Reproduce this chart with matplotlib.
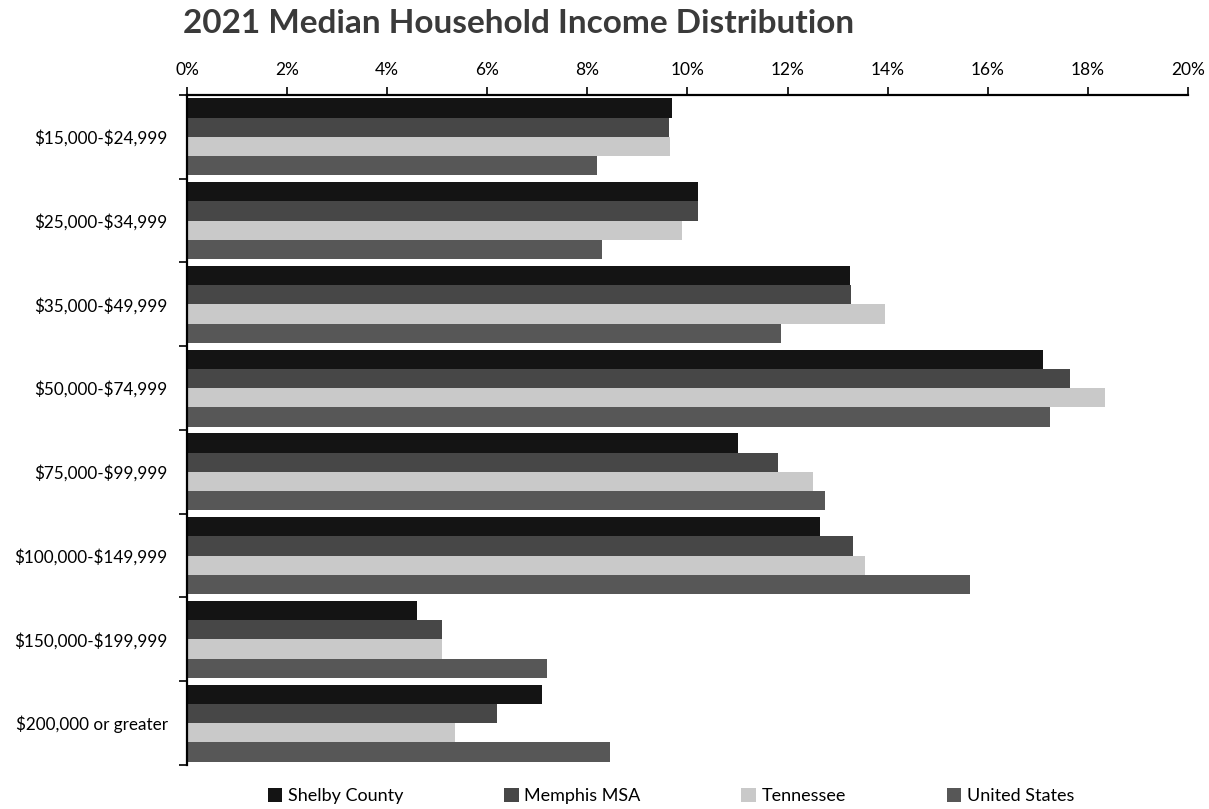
import numpy as np
import matplotlib
matplotlib.use("Agg")
import matplotlib.pyplot as plt
from matplotlib.ticker import FuncFormatter

plt.rcParams["font.family"] = ["Lato", "DejaVu Sans"]

CATEGORIES = [
    "$15,000-$24,999",
    "$25,000-$34,999",
    "$35,000-$49,999",
    "$50,000-$74,999",
    "$75,000-$99,999",
    "$100,000-$149,999",
    "$150,000-$199,999",
    "$200,000 or greater",
]
SERIES = ["Shelby County", "Memphis MSA", "Tennessee", "United States"]
SHELBY = [9.7, 10.2, 13.25, 17.1, 11.0, 12.65, 4.6, 7.1]
MEMPHIS = [9.63, 10.2, 13.27, 17.65, 11.8, 13.3, 5.1, 6.2]
TENNESSEE = [9.65, 9.9, 13.95, 18.35, 12.5, 13.55, 5.1, 5.35]
US = [8.2, 8.3, 11.87, 17.25, 12.75, 15.65, 7.2, 8.45]
COLORS = ["#141414", "#474747", "#c9c9c9", "#575757"]

values = [SHELBY, MEMPHIS, TENNESSEE, US]

fig = plt.figure(figsize=(12.09, 8.09), dpi=100)
ax = fig.add_axes([0.1547, 0.0544, 0.8279, 0.8282])

n = len(SERIES)
group_h = 0.92
bar_h = group_h / n
y = np.arange(len(CATEGORIES))
for i, (name, vals, color) in enumerate(zip(SERIES, values, COLORS)):
    offset = -group_h / 2 + bar_h * (i + 0.5)
    ax.barh(y + offset, vals, height=bar_h, color=color, label=name)

ax.set_xlim(0, 20)
ax.set_ylim(len(CATEGORIES) - 0.5, -0.5)
ax.set_xticks(np.arange(0, 21, 2))
ax.xaxis.set_major_formatter(FuncFormatter(lambda v, _: f"{v:.0f}%"))
ax.xaxis.tick_top()
ax.tick_params(axis="x", direction="out", length=6, width=1.2, labelsize=12.5, pad=6, colors="black")

# escape dollar signs so matplotlib does not read them as mathtext
ax.set_yticks(y)
ax.set_yticklabels([c.replace("$", r"\$") for c in CATEGORIES], fontsize=12.3)
ax.tick_params(axis="y", which="major", length=0, pad=14)
ax.set_yticks(np.arange(-0.5, len(CATEGORIES)), minor=True)
ax.tick_params(axis="y", which="minor", direction="out", length=6, width=1.2)

for side in ["right", "bottom"]:
    ax.spines[side].set_visible(False)
for side in ["top", "left"]:
    ax.spines[side].set_linewidth(1.6)
    ax.spines[side].set_color("black")

fig.text(0.151, 0.971, "2021 Median Household Income Distribution",
         fontsize=24, fontweight="bold", color="#3a3a3a", va="center", ha="left")

handles, labels = ax.get_legend_handles_labels()
leg = fig.legend(handles, labels, loc="center", bbox_to_anchor=(0.555, 0.016), ncol=4,
                 frameon=False, fontsize=13, handlelength=0.8, handleheight=0.8,
                 handletextpad=0.3, columnspacing=5.6)

fig.savefig("out.png", dpi=100)
